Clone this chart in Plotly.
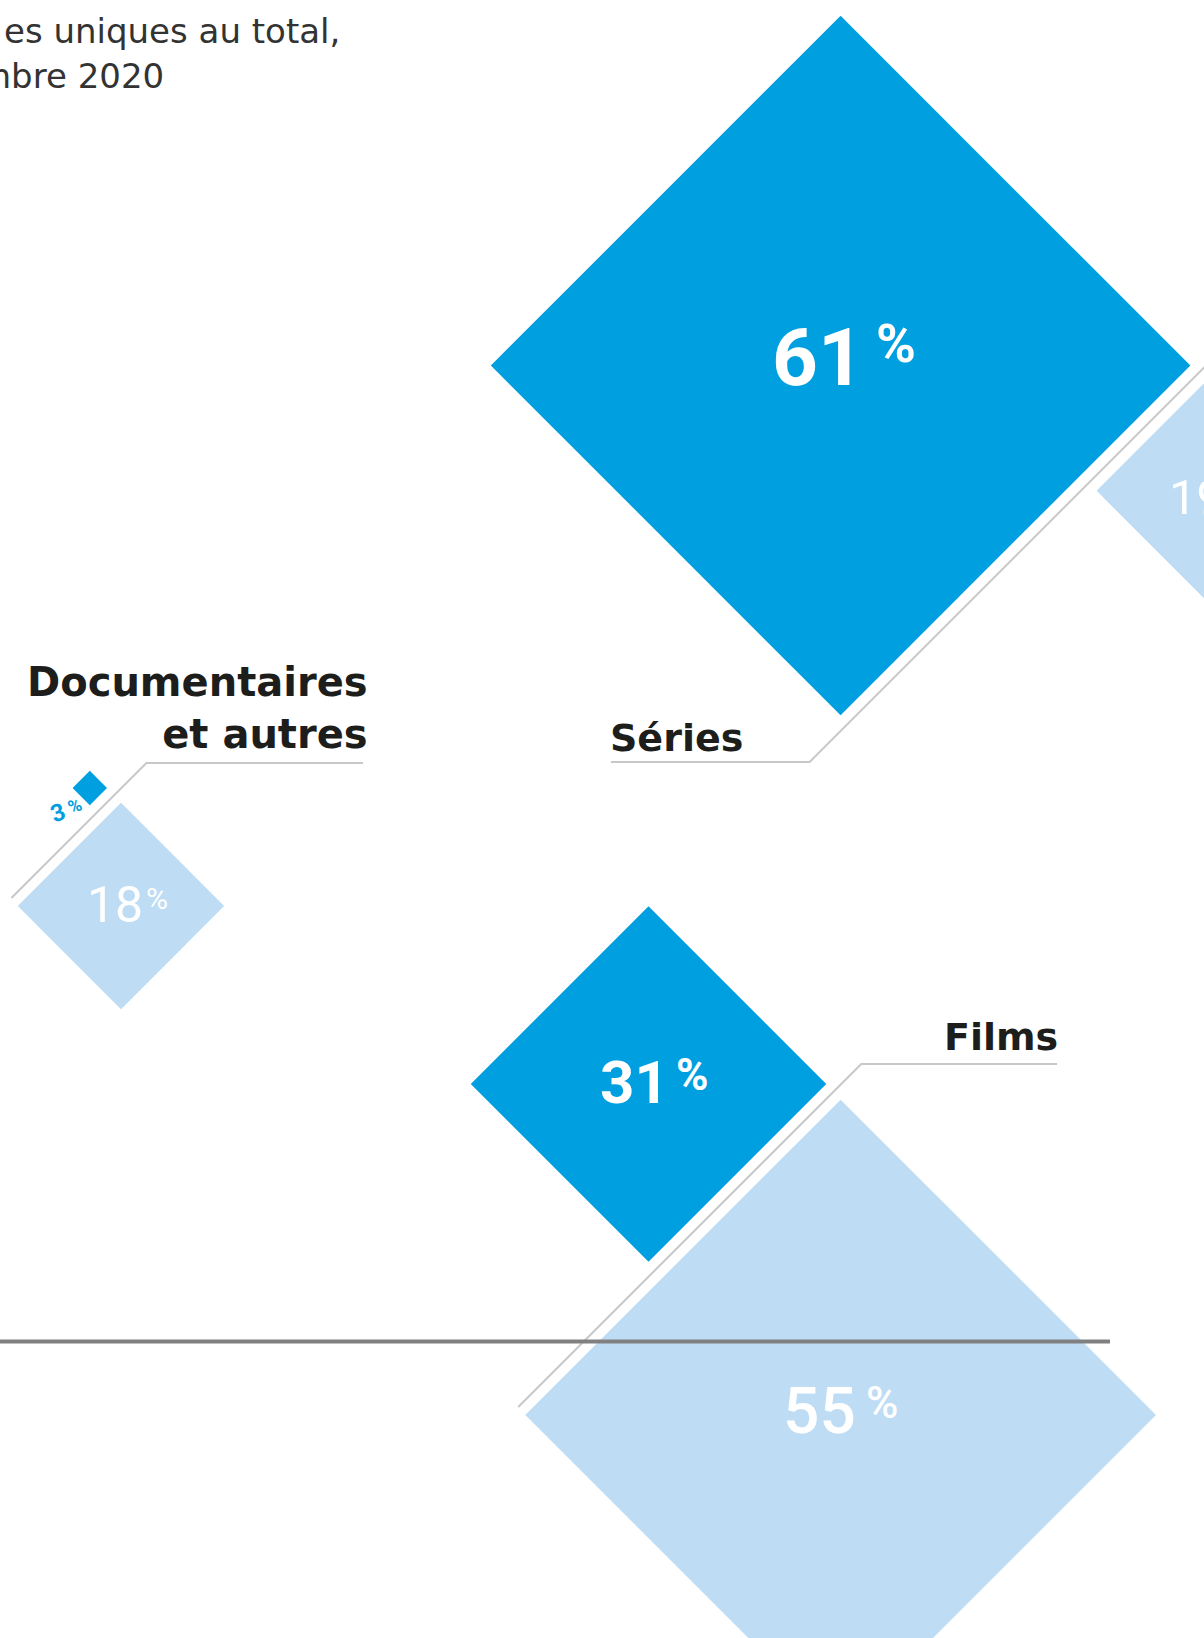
import plotly.graph_objects as go

W, H = 1204, 1638

# ---------------- data ----------------
categories = ["Séries", "Documentaires<br>et autres", "Films"]
dark_share = [61, 3, 31]      # dark blue diamonds
light_share = [19, 18, 55]    # light blue diamonds
caption_lines = ["es uniques au total,", "mbre 2020"]

# ---------------- style / layout ----------------
PX_PER_PCT = 5.734            # half-diagonal in px per percentage point
DARK = "#009FE0"
LIGHT = "#BEDDF5"
LEADER = "#C8C8C8"
RULE = "#808080"
INK = "#1D1D1B"
NUM_FONT = "Roboto, Liberation Sans, sans-serif"
LBL_FONT = "DejaVu Sans, Lato, sans-serif"

dark_centers = [(840.6, 365.5), (89.8, 788.0), (648.5, 1084.0)]
light_centers = [(1205.5, 490.8), (121.0, 906.0), (840.6, 1415.0)]

# leader line: y of horizontal part, x where horizontal ends, y where diagonal ends
leader = [
    dict(knee_y=762, end_x=611, tail_y=300),
    dict(knee_y=763, end_x=363, tail_y=898),
    dict(knee_y=1064, end_x=1057, tail_y=1407),
]
label_pos = [
    dict(x=610, y=760, xanchor="left", align="left", size=38),
    dict(x=368, y=757, xanchor="right", align="right", size=40),
    dict(x=1058, y=1059, xanchor="right", align="right", size=38),
]

# text placement relative to diamond centre:
# (num_size, pct_size, num_dx, num_dy, pct_dx, pct_dy, weight, color)
dark_txt = [
    (80, 54, 23, -8, 35, -22, "bold", "white"),
    None,
    (60, 44, 20.5, -1.5, 27.5, -9.5, "bold", "white"),
]
light_txt = [
    (49, 28, 18.5, 6.7, 28, -1, "normal", "white"),
    (50, 30, 22, -1, 25, -8, "normal", "white"),
    (64, 44, 15, -4, 25, -12.5, 500, "white"),
]

fig = go.Figure()


def diamond(cx, cy, value, color):
    h = value * PX_PER_PCT
    fig.add_trace(go.Scatter(
        x=[cx, cx + h, cx, cx - h, cx],
        y=[cy - h, cy, cy + h, cy, cy - h],
        mode="lines", fill="toself", fillcolor=color,
        line=dict(width=0, color=color), hoverinfo="skip", showlegend=False))
    return h


dark_h, light_h = [], []
for i in range(len(categories)):
    dark_h.append(diamond(*dark_centers[i], dark_share[i], DARK))
    light_h.append(diamond(*light_centers[i], light_share[i], LIGHT))

# leader lines (between the paired diamonds)
for i in range(len(categories)):
    dcx, dcy = dark_centers[i]
    lcx, lcy = light_centers[i]
    c = ((dcx + dcy + dark_h[i]) + (lcx + lcy - light_h[i])) / 2
    L = leader[i]
    ky = L["knee_y"]
    fig.add_trace(go.Scatter(
        x=[L["end_x"], c - ky, c - L["tail_y"]],
        y=[ky, ky, L["tail_y"]],
        mode="lines", line=dict(color=LEADER, width=2),
        hoverinfo="skip", showlegend=False))

# horizontal rule
fig.add_trace(go.Scatter(x=[0, 1110], y=[1341.5, 1341.5], mode="lines",
                         line=dict(color=RULE, width=4), hoverinfo="skip", showlegend=False))

ann = []


def A(text, x, y, size, color, family, xanchor="center", yanchor="middle", weight="normal", angle=0, align="center"):
    ann.append(dict(text=text, x=x / W, y=1 - y / H, xref="paper", yref="paper",
                    showarrow=False, xanchor=xanchor, yanchor=yanchor, align=align,
                    textangle=angle, borderpad=0, borderwidth=0,
                    font=dict(size=size, color=color, family=family, weight=weight)))


def pct_text(cx, cy, value, spec):
    ns, ps, ndx, ndy, pdx, pdy, wt, col = spec
    A(str(value), cx + ndx, cy + ndy, ns, col, NUM_FONT, xanchor="right", weight=wt)
    A("%", cx + pdx, cy + pdy, ps, col, NUM_FONT, xanchor="left", weight=wt)


for i in range(len(categories)):
    if dark_txt[i] is not None:
        pct_text(*dark_centers[i], dark_share[i], dark_txt[i])
    pct_text(*light_centers[i], light_share[i], light_txt[i])

# small 3 % label outside its diamond
dcx, dcy = dark_centers[1]
A(str(dark_share[1]), dcx - 32, dcy + 25, 24, DARK, NUM_FONT, weight="bold", angle=-20)
A("%", dcx - 15, dcy + 17, 18, DARK, NUM_FONT, weight="bold", angle=-20)

# category labels
for i, lab in enumerate(categories):
    p = label_pos[i]
    A(lab, p["x"], p["y"], p["size"], INK, LBL_FONT, xanchor=p["xanchor"], yanchor="bottom",
      weight="bold", align=p["align"])

# caption (cropped at the left edge)
A(caption_lines[0], 340, 31.3, 34, "#333333", LBL_FONT, xanchor="right")
A(caption_lines[1], 164, 75.6, 34, "#333333", LBL_FONT, xanchor="right")

fig.update_layout(
    width=W, height=H, margin=dict(l=0, r=0, t=0, b=0),
    paper_bgcolor="white", plot_bgcolor="white", showlegend=False,
    xaxis=dict(range=[0, W], visible=False, fixedrange=True),
    yaxis=dict(range=[H, 0], visible=False, fixedrange=True),
    annotations=ann,
)

fig.write_html(
    "out.html",
    config={"displayModeBar": False},
    post_script="document.body.style.margin='0';document.body.style.overflow='hidden';",
)
